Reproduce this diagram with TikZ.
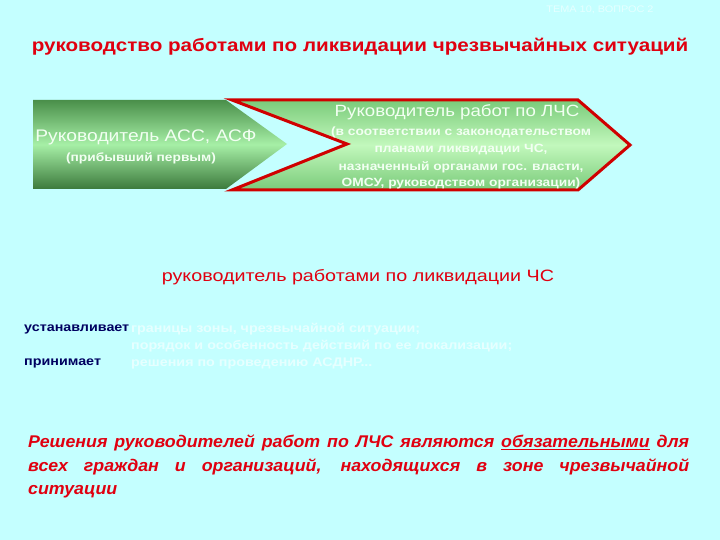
\documentclass[tikz,border=0pt]{standalone}
\usepackage{fontspec}
\setmainfont{Liberation Sans}
\newfontfamily\widefont[FakeStretch=1.15]{Liberation Sans}
\newfontfamily\wideerfont[FakeStretch=1.2]{Liberation Sans}
\newfontfamily\notefont[FakeStretch=1.05]{Liberation Sans}
\definecolor{bg}{HTML}{C4FFFF}
\definecolor{titlered}{HTML}{E00010}
\definecolor{navy}{HTML}{000060}
\definecolor{gdark}{HTML}{4A8F4A}
\definecolor{gdarkb}{HTML}{3C7A3C}
\definecolor{glight}{HTML}{A6EFA6}
\definecolor{rtop}{HTML}{7ACB7A}
\definecolor{rmid}{HTML}{C2F8BC}
\definecolor{frame}{HTML}{D00000}
\definecolor{boxtext}{HTML}{F2FFF2}
\definecolor{faint}{HTML}{E6FFFF}
\tikzset{
  boxbig/.style={text=boxtext, font=\widefont\fontsize{16.8}{19}\selectfont, inner sep=0},
  boxsmall/.style={text=boxtext, font=\widefont\bfseries\fontsize{12}{14}\selectfont, inner sep=0},
  label/.style={text=navy, font=\widefont\bfseries\fontsize{12.5}{14}\selectfont, anchor=west, inner sep=0},
  fainttext/.style={text=faint, font=\widefont\bfseries\fontsize{12.5}{14}\selectfont, anchor=west, inner sep=0}
}
\begin{document}
\begin{tikzpicture}[x=1bp,y=-1bp]
\fill[bg] (0,0) rectangle (720,540);
\useasboundingbox (0,0) rectangle (720,540);

\node[text=faint, font=\widefont\fontsize{9.5}{11}\selectfont, inner sep=0] (topic) at (600,10) {ТЕМА 10, ВОПРОС 2};

\node[text=titlered, font=\widefont\bfseries\fontsize{18}{20}\selectfont, inner sep=0] (title) at (360,47)
  {руководство работами по ликвидации чрезвычайных ситуаций};

% left arrow
\shade[top color=gdark, bottom color=gdarkb, middle color=glight]
  (33,100) -- (226,100) -- (287,144) -- (226,189) -- (33,189) -- cycle;
% right chevron
\path[shade, top color=rtop, bottom color=rtop, middle color=rmid, draw=frame, line width=3bp, line join=miter]
  (232,100) -- (578,100) -- (630,145) -- (578,190) -- (232,190) -- (347,144) -- cycle;

\node[boxbig] (ascname) at (146,137) {Руководитель АСС, АСФ};
\node[boxsmall] (ascsub) at (141,158) {(прибывший первым)};

\node[boxbig, font=\widefont\fontsize{16.3}{19}\selectfont] (lchs) at (457,112) {Руководитель работ по ЛЧС};
\node[boxsmall] (l1) at (461,132) {(в соответствии с законодательством};
\node[boxsmall] (l2) at (461,150) {планами ликвидации ЧС,};
\node[boxsmall] (l3) at (461,167) {назначенный органами гос. власти,};
\node[boxsmall] (l4) at (461,183) {ОМСУ, руководством организации)};

\node[text=titlered, font=\wideerfont\fontsize{16.5}{18}\selectfont, inner sep=0] (sub) at (358,277)
  {руководитель работами по ликвидации ЧС};

\node[label] (ust) at (24,329) {устанавливает};
\node[label] (prin) at (24,363) {принимает};
\node[fainttext] (f1) at (131,329) {границы зоны, чрезвычайной ситуации;};
\node[fainttext] (f2) at (131,346) {порядок и особенность действий по ее локализации;};
\node[fainttext] (f3) at (131,363) {решения по проведению АСДНР...};

\node[anchor=north west, text width=661bp, align=justify, inner sep=0, text=titlered,
      font=\notefont\bfseries\itshape\fontsize{17}{23.5}\selectfont] (note) at (28,435)
  {\hyphenpenalty=10000\exhyphenpenalty=10000\spaceskip=0.22em plus 1.5em minus 0.05em
   Решения руководителей работ по ЛЧС являются \underline{обязательными} для\linebreak
   всех граждан и организаций, находящихся в зоне чрезвычайной\linebreak
   ситуации};
\end{tikzpicture}
\end{document}
